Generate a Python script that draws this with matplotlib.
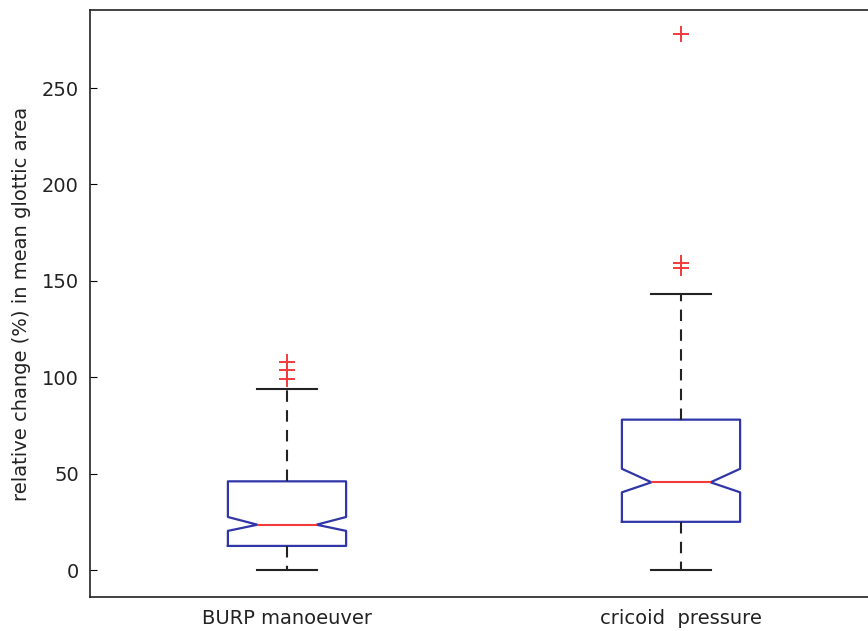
import matplotlib
matplotlib.use("Agg")
import matplotlib.pyplot as plt

plt.rcParams['font.family'] = ['DejaVu Sans']

# values (relative change %, in mean glottic area)
groups = ['BURP manoeuver', 'cricoid  pressure']
whis_low = [0, 0]
q1 = [12.5, 25]
medians = [23.5, 45.5]
q3 = [46, 78]
whis_high = [94, 143]
notch_low = [20.3, 40.3]
notch_high = [27.5, 52.5]
outliers = [[99, 103.5, 108], [156.5, 159.3, 277.8]]

stats = []
for i in range(len(groups)):
    stats.append({
        'label': groups[i],
        'whislo': whis_low[i], 'q1': q1[i], 'med': medians[i],
        'q3': q3[i], 'whishi': whis_high[i],
        'cilo': notch_low[i], 'cihi': notch_high[i],
        'fliers': outliers[i],
    })

fig = plt.figure(figsize=(8.68, 6.31), dpi=100)
# axes runs a bit past the right edge, as in the cropped original
ax = fig.add_axes([90 / 868, 34 / 631, 788 / 868, 587 / 631])

blue = '#3036a8'
red = '#f23a3a'
ax.bxp(stats, positions=[1, 2], widths=0.3, shownotches=True,
       boxprops=dict(color=blue, linewidth=1.6),
       medianprops=dict(color=red, linewidth=1.5),
       whiskerprops=dict(color='#222222', linewidth=1.5, linestyle=(0, (5.5, 4))),
       capprops=dict(color='#222222', linewidth=1.5),
       flierprops=dict(marker='+', markeredgecolor=red, markersize=11,
                       markeredgewidth=1.4, linestyle='none'))

ax.set_xlim(0.5, 2.5)
ax.set_ylim(-14, 290.5)
ax.set_yticks([0, 50, 100, 150, 200, 250])
ax.tick_params(axis='y', direction='in', right=True, length=5, labelsize=14,
               labelcolor='#222222', pad=8)
ax.tick_params(axis='x', length=0, labelsize=14, labelcolor='#222222', pad=9)
for sp in ax.spines.values():
    sp.set_linewidth(1.2)
    sp.set_color('#222222')
ax.set_ylabel('relative change (%) in mean glottic area', fontsize=14,
              color='#222222', labelpad=8)

fig.savefig('out.png', dpi=100)
